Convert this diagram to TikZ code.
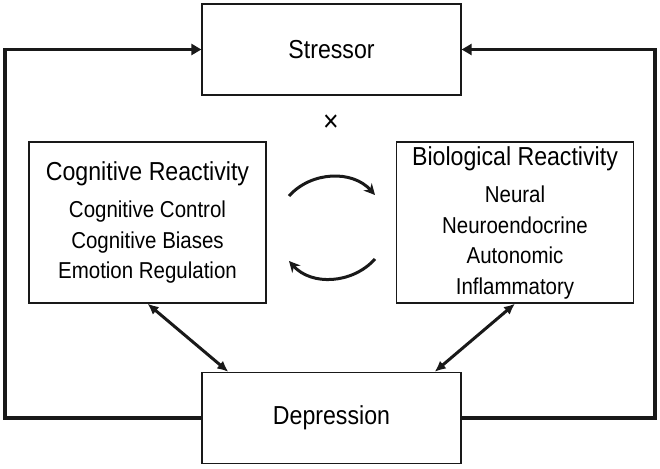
\documentclass[tikz,border=0pt]{standalone}
\usepackage{fontspec}
\setmainfont{Liberation Sans}[FakeStretch=0.89]
\usetikzlibrary{arrows.meta,calc,positioning}
\tikzstyle{box}=[draw=black!90,line width=1.3pt,inner sep=0pt,align=center]
\tikzstyle{bigbox}=[box,minimum width=259pt,minimum height=91pt,font=\fontsize{26}{30}\selectfont]
\tikzstyle{reactbox}=[box,minimum width=237pt,minimum height=161pt,font=\fontsize{23}{30.5}\selectfont]
\tikzstyle{feedback}=[draw,black!90,line width=3.6pt,-{Triangle[length=10pt,width=11pt]}]
\tikzstyle{link}=[draw,black!90,line width=3pt,{Latex[length=11pt,width=10pt]}-{Latex[length=11pt,width=10pt]}]
\tikzstyle{cycle}=[draw,black!90,line width=3pt,-{Stealth[length=11pt,width=11pt]}]
\newcommand{\heading}[1]{{\fontsize{26}{30}\selectfont #1}}
\begin{document}
\begin{tikzpicture}[x=1pt,y=-1pt]
  \useasboundingbox (0,0) rectangle (660,468);

  \node[bigbox] (stressor) at (331.5,49.5) {Stressor};
  \node[bigbox] (depression) at (331.5,418) {Depression};
  \node[reactbox] (cog) at (147.5,222.5) {\heading{Cognitive Reactivity}\\[7pt]
     Cognitive Control\\ Cognitive Biases\\ Emotion Regulation};
  \node[reactbox] (bio) at (515,222.5) {\heading{Biological Reactivity}\\[7pt]
     Neural\\ Neuroendocrine\\ Autonomic\\ Inflammatory};
  \node[font=\fontsize{30}{30}\selectfont] (times) at (331,123) {×};

  % feedback to the stressor
  \coordinate (lturn) at (5,418);
  \coordinate (rturn) at (655,418);
  \draw[feedback] (depression.west) -- (lturn) |- (stressor.west);
  \draw[feedback] (depression.east) -- (rturn) |- (stressor.east);

  % reactivity <-> depression
  \draw[link] (cog.south) -- ($(depression.north west)+(27,0)$);
  \draw[link] (bio.south) -- ($(depression.north east)+(-27,0)$);

  % reciprocal arrows
  \coordinate (ctl) at (289,196);
  \coordinate (ctr) at (375,195);
  \coordinate (cbr) at (375,259);
  \coordinate (cbl) at (289,261);
  \draw[cycle] (ctl) to[out=48, in=132] (ctr);
  \draw[cycle] (cbr) to[out=-132, in=-48] (cbl);
\end{tikzpicture}
\end{document}
